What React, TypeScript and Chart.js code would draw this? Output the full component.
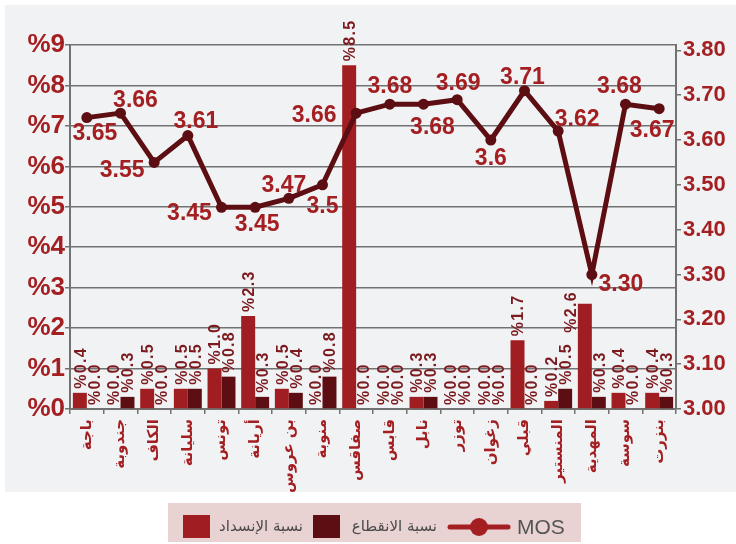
import { useEffect, useRef } from 'react';
import { Chart, registerables } from 'chart.js';

Chart.register(...registerables);

const categories = ['باجة', 'جندوبة', 'الكاف', 'سليانة', 'تونس', 'أريانة', 'بن عروس', 'منوبة', 'صفاقس', 'قابس', 'نابل', 'توزر', 'زغوان', 'قبلي', 'المنستير', 'المهدية', 'سوسة', 'بنزرت'];
const blockageRate = [0.4, 0.0, 0.5, 0.5, 1.0, 2.3, 0.5, 0.0, 8.5, 0.0, 0.3, 0.0, 0.0, 1.7, 0.2, 2.6, 0.4, 0.4];
const dropRate = [0.0, 0.3, 0.0, 0.5, 0.8, 0.3, 0.4, 0.8, 0.0, 0.0, 0.3, 0.0, 0.0, 0.0, 0.5, 0.3, 0.0, 0.3];
const mos = [3.65, 3.66, 3.55, 3.61, 3.45, 3.45, 3.47, 3.5, 3.66, 3.68, 3.68, 3.69, 3.6, 3.71, 3.62, 3.30, 3.68, 3.67];
const mosLabels = ['3.65', '3.66', '3.55', '3.61', '3.45', '3.45', '3.47', '3.5', '3.66', '3.68', '3.68', '3.69', '3.6', '3.71', '3.62', '3.30', '3.68', '3.67'];
const leftTickValues = [0, 1, 2, 3, 4, 5, 6, 7, 8, 9];
const rightTickLabels = ['3.00', '3.10', '3.20', '3.30', '3.40', '3.50', '3.60', '3.70', '3.80'];

const seriesNames = ['نسبة الإنسداد', 'نسبة الانقطاع', 'MOS'];

// label placement (style) – offsets of the MOS value labels relative to their points
const mosLabelOffsets: [number, number][] = [
  [8, 14], [15, -14], [-32, 6], [8, -16], [-32, 5], [2, 16], [-5, -15], [0, 20], [-42, 1],
  [0, -19], [9, 22], [1, -18], [0, 17], [-2, -15], [19, -13], [29, 8], [-6, -19], [-7, 20],
];

const RED = '#a01e21';
const DARK = '#5c0e12';
const TEXT_RED = '#a31f22';
const GRID = '#727272';

const panelPlugin = {
  id: 'panel',
  beforeDraw(chart: any) {
    const ctx = chart.ctx;
    ctx.save();
    ctx.fillStyle = '#ffffff';
    ctx.fillRect(0, 0, chart.width, chart.height);
    ctx.fillStyle = '#f1f2f4';
    ctx.fillRect(5, 5, 731, 487);
    ctx.restore();
  },
};

const barLabelPlugin = {
  id: 'barLabels',
  afterDatasetsDraw(chart: any) {
    const ctx = chart.ctx;
    ctx.save();
    ctx.font = 'bold 16px "Liberation Sans", Arial, sans-serif';
    ctx.fillStyle = '#7b1b1f';
    ctx.textAlign = 'left';
    ctx.textBaseline = 'alphabetic';
    try { (ctx as any).letterSpacing = '1.3px'; } catch (e) {}
    [0, 1].forEach((di) => {
      const meta = chart.getDatasetMeta(di);
      const values = chart.data.datasets[di].data as number[];
      meta.data.forEach((bar: any, i: number) => {
        let x = bar.x;
        let y = bar.y - 4;
        if (di === 0 && i === 15) { x -= 15; y += 33; }
        ctx.save();
        ctx.translate(x, y);
        ctx.rotate(-Math.PI / 2);
        ctx.fillText('%' + values[i].toFixed(1), 0, 5.7);
        ctx.restore();
      });
    });
    ctx.restore();
  },
  afterDraw(chart: any) {
    const ctx = chart.ctx;
    // MOS value labels
    const meta = chart.getDatasetMeta(2);
    ctx.save();
    ctx.font = 'bold 23px "Liberation Sans", Arial, sans-serif';
    ctx.fillStyle = TEXT_RED;
    ctx.textAlign = 'center';
    ctx.textBaseline = 'alphabetic';
    meta.data.forEach((pt: any, i: number) => {
      const [dx, dy] = mosLabelOffsets[i];
      ctx.fillText(mosLabels[i], pt.x + dx, pt.y + dy + 8.2);
    });
    ctx.restore();

    // legend
    ctx.save();
    ctx.fillStyle = '#e9d2d2';
    ctx.fillRect(168, 503, 413, 39);
    ctx.fillStyle = RED;
    ctx.fillRect(183, 515, 27, 23);
    ctx.fillStyle = DARK;
    ctx.fillRect(313, 515, 27, 23);
    ctx.fillStyle = '#4a4a4a';
    ctx.font = '15px "DejaVu Sans", sans-serif';
    ctx.textAlign = 'right';
    ctx.textBaseline = 'middle';
    ctx.fillText(seriesNames[0], 303, 527);
    ctx.fillText(seriesNames[1], 437, 527);
    ctx.strokeStyle = TEXT_RED;
    ctx.lineWidth = 5;
    ctx.lineCap = 'round';
    ctx.beginPath();
    ctx.moveTo(450, 527);
    ctx.lineTo(508, 527);
    ctx.stroke();
    ctx.fillStyle = TEXT_RED;
    ctx.beginPath();
    ctx.arc(479, 527, 9, 0, Math.PI * 2);
    ctx.fill();
    ctx.fillStyle = '#555555';
    ctx.font = '21px "Liberation Sans", Arial, sans-serif';
    ctx.textAlign = 'left';
    ctx.fillText(seriesNames[2], 517, 528);
    ctx.restore();
  },
};

export default function App() {
  const ref = useRef<HTMLCanvasElement>(null);
  useEffect(() => {
    if (!ref.current) return;
    const chart = new Chart(ref.current, {
      type: 'bar',
      data: {
        labels: categories,
        datasets: [
          {
            type: 'bar', label: seriesNames[0], data: blockageRate, backgroundColor: RED,
            yAxisID: 'y', order: 1, barPercentage: 1, categoryPercentage: 0.83,
          },
          {
            type: 'bar', label: seriesNames[1], data: dropRate, backgroundColor: DARK,
            yAxisID: 'y', order: 1, barPercentage: 1, categoryPercentage: 0.83,
          },
          {
            type: 'line', label: seriesNames[2], data: mos, borderColor: DARK, backgroundColor: DARK,
            borderWidth: 5, pointRadius: 5.5, pointBackgroundColor: DARK, pointBorderWidth: 0,
            yAxisID: 'y2', order: 0, tension: 0,
          } as any,
        ],
      },
      options: {
        responsive: false,
        animation: false,
        devicePixelRatio: 1,
        layout: { padding: { top: 45, left: 0, right: 0, bottom: 0 } },
        plugins: { legend: { display: false }, tooltip: { enabled: false } },
        scales: {
          x: {
            grid: { display: true, offset: true, drawOnChartArea: false, drawTicks: true, tickLength: 5, color: GRID, lineWidth: 1.5 },
            border: { display: true, color: GRID, width: 2 },
            ticks: {
              color: TEXT_RED, autoSkip: false, maxRotation: 90, minRotation: 90, padding: 5,
              font: { family: '"DejaVu Sans", sans-serif', size: 15, weight: 'bold' },
            },
            afterFit: (s: any) => { s.height = 135; },
          },
          y: {
            position: 'left', min: 0, max: 9,
            afterBuildTicks: (s: any) => { s.ticks = leftTickValues.map((v) => ({ value: v })); },
            ticks: {
              stepSize: 1, color: TEXT_RED, padding: 0,
              font: { family: '"Liberation Sans", Arial, sans-serif', size: 26, weight: 'bold' },
              callback: (v: any) => '%' + v,
            },
            grid: { color: GRID, lineWidth: 1.5, tickLength: 5 },
            border: { display: true, color: GRID, width: 2 },
            afterFit: (s: any) => { s.width = 70; },
          },
          y2: {
            position: 'right', min: 3.0, max: 3.812,
            afterBuildTicks: (s: any) => { s.ticks = rightTickLabels.map((t) => ({ value: parseFloat(t) })); },
            ticks: {
              color: TEXT_RED, padding: 2,
              font: { family: '"Liberation Sans", Arial, sans-serif', size: 22, weight: 'bold' },
              callback: (v: any) => Number(v).toFixed(2),
            },
            grid: { drawOnChartArea: false, color: GRID, lineWidth: 1.5, tickLength: 5 },
            border: { display: true, color: GRID, width: 2 },
            afterFit: (s: any) => { s.width = 60; },
          },
        },
      },
      plugins: [panelPlugin, barLabelPlugin],
    });
    return () => chart.destroy();
  }, []);
  return (
    <div style={{ position: 'fixed', left: 0, top: 0, width: 736, height: 544 }}>
      <canvas ref={ref} width={736} height={544} style={{ display: 'block', width: 736, height: 544 }} />
    </div>
  );
}
